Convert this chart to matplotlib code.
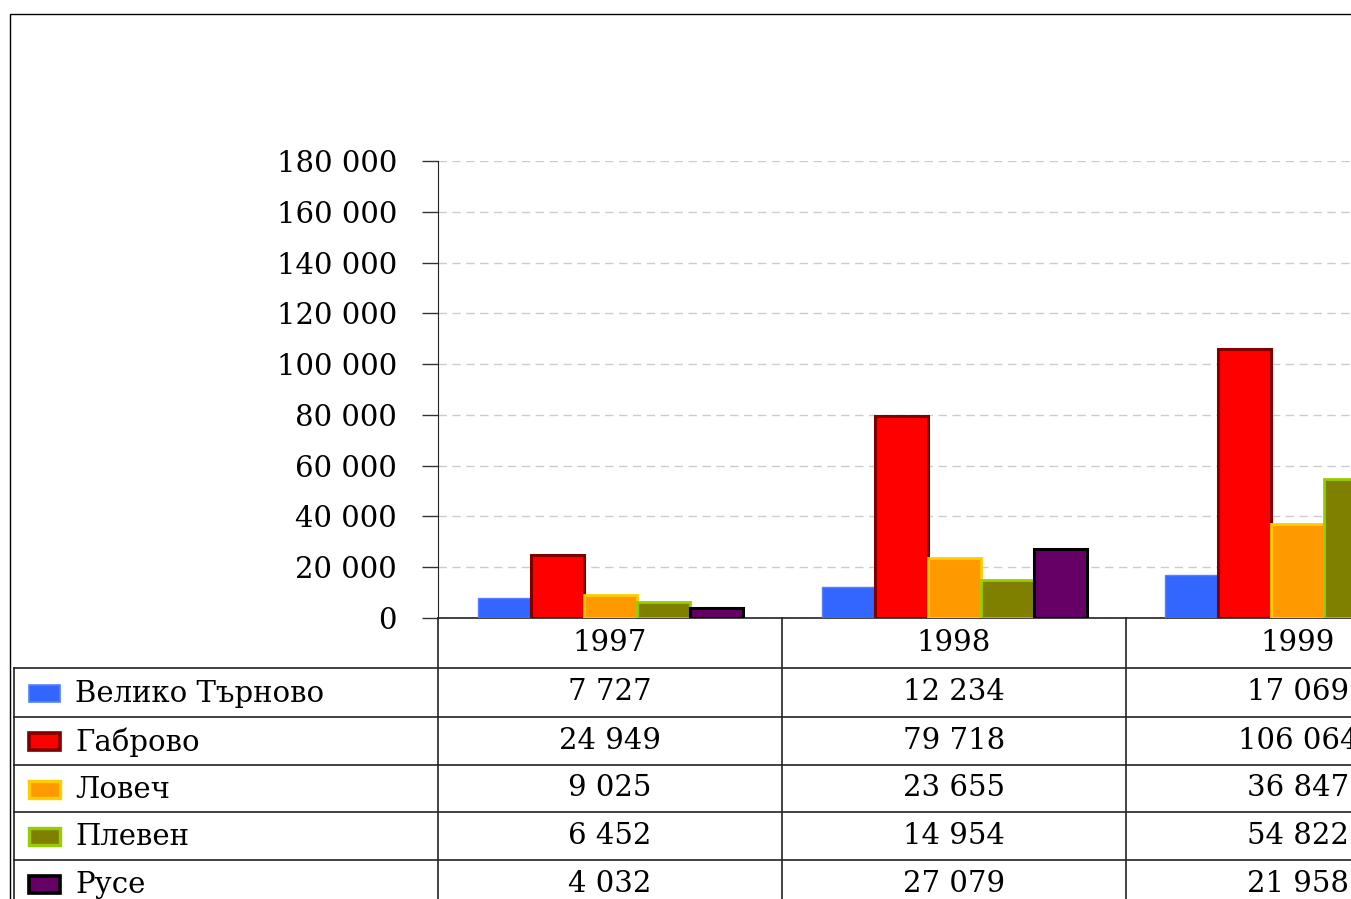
import matplotlib.pyplot as plt
from matplotlib.patches import Rectangle

years = ["1997", "1998", "1999"]
regions = ["Велико Търново", "Габрово", "Ловеч", "Плевен", "Русе"]
veliko_tarnovo = [7727, 12234, 17069]
gabrovo = [24949, 79718, 106064]
lovech = [9025, 23655, 36847]
pleven = [6452, 14954, 54822]
ruse = [4032, 27079, 21958]
series = [veliko_tarnovo, gabrovo, lovech, pleven, ruse]

face_colors = ["#3366FF", "#FF0000", "#FF9900", "#808000", "#660066"]
edge_colors = ["#5580FF", "#800000", "#FFCC00", "#99CC00", "#000000"]
edge_widths = [1.0, 2.2, 2.0, 2.0, 2.2]

yticks = [0, 20000, 40000, 60000, 80000, 100000, 120000, 140000, 160000, 180000]


def fmt(v):
    return f"{v:,}".replace(",", " ")


W, H = 1351, 899
FS = 21
plt.rcParams["font.family"] = ["DejaVu Serif"]
fig = plt.figure(figsize=(W / 100, H / 100), dpi=100)

# outer frame (runs off the right and bottom edges)
fig.patches.append(Rectangle((10 / W, -0.1), 1.2, (H - 14) / H + 0.1,
                             transform=fig.transFigure, fill=False,
                             edgecolor="black", linewidth=1.0))

cat_px = 344
n = len(years)
ax_left, ax_top, ax_bottom = 438, 161, 618
ax = fig.add_axes([ax_left / W, (H - ax_bottom) / H,
                   n * cat_px / W, (ax_bottom - ax_top) / H])

bar_w = 53 / cat_px
group_w = bar_w * len(series)
for i, (vals, fc, ec, lw) in enumerate(zip(series, face_colors, edge_colors, edge_widths)):
    xs = [k + 0.5 - group_w / 2 + i * bar_w for k in range(n)]
    ax.bar(xs, vals, width=bar_w, align="edge", color=fc, edgecolor=ec,
           linewidth=lw, zorder=3)

ax.set_xlim(0, n)
ax.set_ylim(0, 180000)
ax.set_yticks(yticks)
ax.set_yticklabels([fmt(v) for v in yticks], fontsize=FS)
ax.set_xticks([])
ax.tick_params(axis="y", direction="out", length=11.5, width=1, pad=18,
               color="#333333")
ax.yaxis.grid(True, linestyle=(0, (6, 4)), color="#cccccc", linewidth=1)
ax.set_axisbelow(True)
for s in ["top", "right"]:
    ax.spines[s].set_visible(False)
ax.spines["left"].set_color("#222222")
ax.spines["bottom"].set_color("#222222")
ax.spines["bottom"].set_linewidth(1.2)
ax.patch.set_alpha(0)

# data table below the plot, row edges in pixels from the axis line
left_px = 14
row_edges = [0, 50, 99, 147, 194, 242, 290]
n_rows = len(row_edges) - 1
left_w = (ax_left - left_px) / cat_px
tab_h = row_edges[-1]
tax = fig.add_axes([left_px / W, (H - ax_bottom - tab_h) / H,
                    (ax_left - left_px + n * cat_px) / W, tab_h / H])
tax.set_xlim(-left_w, n)
tax.set_ylim(tab_h, 0)
tax.axis("off")

line_kw = dict(color="#222222", linewidth=1.2, clip_on=False)
for e in row_edges[1:]:
    tax.plot([-left_w, n], [e, e], **line_kw)
tax.plot([-left_w, -left_w], [row_edges[1], tab_h], **line_kw)
for c in range(n + 1):
    tax.plot([c, c], [0, tab_h], **line_kw)


def mid(r):
    return (row_edges[r] + row_edges[r + 1]) / 2


for k, yr in enumerate(years):
    tax.text(k + 0.5, mid(0), yr, ha="center", va="center", fontsize=FS)

sw_w = 31 / cat_px
for i, (name, vals) in enumerate(zip(regions, series)):
    r = i + 1
    tax.add_patch(Rectangle((-left_w + 15 / cat_px, mid(r) - 8), sw_w, 17,
                            facecolor=face_colors[i], edgecolor=edge_colors[i],
                            linewidth=edge_widths[i] * 1.2, clip_on=False))
    tax.text(-left_w + 61 / cat_px, mid(r) + 1, name, ha="left", va="center",
             fontsize=FS)
    for k, v in enumerate(vals):
        tax.text(k + 0.5, mid(r), fmt(v), ha="center", va="center",
                 fontsize=FS, clip_on=False)

fig.savefig("out.png", dpi=100)
